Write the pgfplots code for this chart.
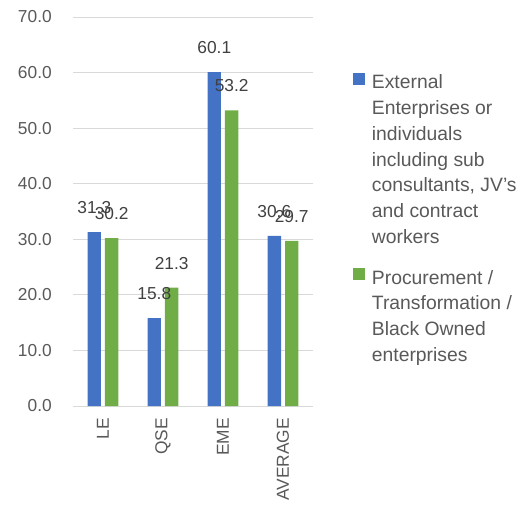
\documentclass[border=0pt]{standalone}
\usepackage{fontspec}
\setmainfont{Liberation Sans}
\usepackage{pgfplots}
\pgfplotsset{compat=1.18}
\definecolor{cblue}{HTML}{4472C4}
\definecolor{cgreen}{HTML}{70AD47}
\definecolor{tgray}{HTML}{595959}
\definecolor{lgray}{HTML}{404040}
\definecolor{ggray}{HTML}{D9D9D9}
\begin{document}
\begin{tikzpicture}
\path[use as bounding box] (-54.75pt,-75.75pt) rectangle (344.25pt,304.5pt);
\begin{axis}[
  at={(0,0)}, anchor=south west,
  scale only axis, width=180pt, height=291.75pt,
  ybar, bar width=10pt,
  xmin=-0.5, xmax=3.5, ymin=0, ymax=70,
  xtick={0,1,2,3}, xticklabels={LE,QSE,EME,AVERAGE},
  ytick={0,10,...,70},
  major tick length=0pt,
  axis line style={draw=none},
  ymajorgrids, grid style={ggray, line width=0.75pt},
  tick label style={font=\fontsize{13}{15}\selectfont, text=tgray},
  xticklabel style={rotate=90, anchor=east, inner sep=0pt, xshift=-9pt},
  yticklabel style={anchor=east, inner sep=0pt, xshift=-15.75pt},
  /pgf/number format/assume math mode=true,
  yticklabel={\pgfmathprintnumber[fixed, fixed zerofill, precision=1]{\tick}},
  nodes near coords={\pgfmathprintnumber[fixed, fixed zerofill, precision=1, assume math mode=true]{\pgfplotspointmeta}},
  nodes near coords style={anchor=south, inner sep=0pt, yshift=13.5pt, font=\fontsize{13}{15}\selectfont, text=lgray},
  legend image code/.code={\fill[#1] (0pt,-9.5pt) rectangle (9pt,-0.5pt);},
  legend style={at={(rel axis cs:1,1)}, anchor=north west, xshift=30pt, yshift=-41pt,
    draw=none, fill=none, inner sep=0pt, row sep=14.5pt, column sep=3pt,
    font=\fontsize{14.5}{19.3}\selectfont, text=tgray,
    cells={anchor=north west, align=left, inner xsep=0pt, inner ysep=0pt}},
]
\addplot[fill=cblue, draw=none, bar shift=-6.5pt] coordinates {(0,31.3) (1,15.8) (2,60.1) (3,30.6)};
\addplot[fill=cgreen, draw=none, bar shift=6.5pt] coordinates {(0,30.2) (1,21.3) (2,53.2) (3,29.7)};
\legend{{External\\Enterprises or\\individuals\\including sub\\consultants, JV’s\\and contract\\workers}, {Procurement /\\Transformation /\\Black Owned\\enterprises}}
\end{axis}
\end{tikzpicture}
\end{document}
